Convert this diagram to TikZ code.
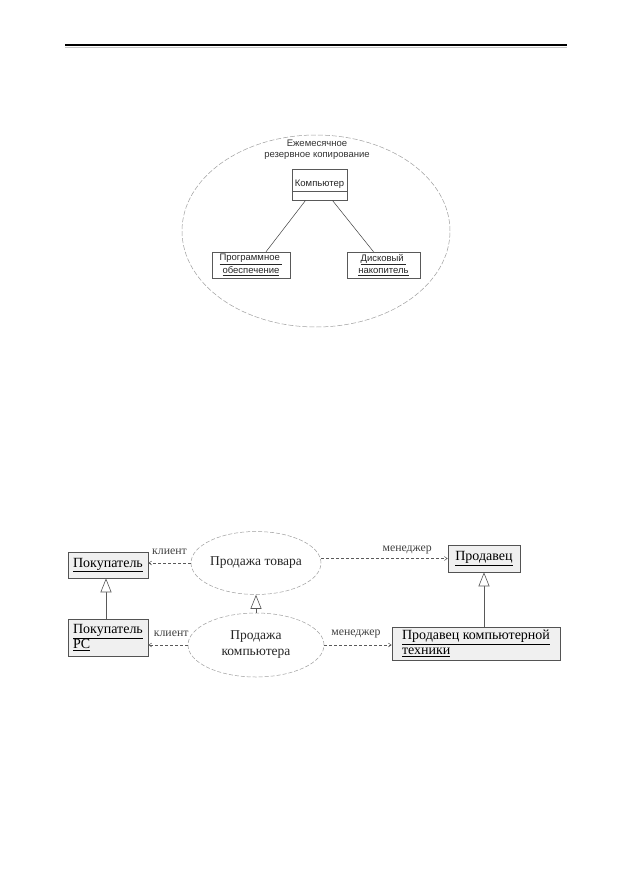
\documentclass[tikz,border=0pt]{standalone}
\usepackage{fontspec}
\setmainfont{Liberation Serif}
\newfontfamily\uppersans{Liberation Sans}
\usetikzlibrary{shapes.geometric,arrows.meta,calc}
\tikzset{
  ubox/.style={draw=gray!70!black, line width=0.5pt, inner sep=1pt, align=center,
    font=\uppersans\fontsize{9.5}{12.5}\selectfont, text=black!85},
  lbox/.style={draw=gray!65!black, fill=gray!12, line width=0.6pt, inner sep=2pt,
    font=\fontsize{14}{15}\selectfont},
  uc/.style={ellipse, draw=gray!75, dashed, dash pattern=on 4pt off 2pt, line width=0.5pt,
    font=\fontsize{13.5}{16}\selectfont, align=center, text=black!85},
  dep/.style={draw=gray!70!black, dashed, dash pattern=on 3pt off 2pt, line width=0.5pt,
    -{Straight Barb[length=3pt,width=4pt]}},
  gen/.style={draw=gray!70!black, line width=0.6pt,
    -{Triangle[open,length=14pt,width=11pt,fill=white]}},
  lbl/.style={font=\fontsize{11.8}{13}\selectfont, text=black!75, inner sep=0pt, anchor=base},
  assoc/.style={draw=gray!50!black, line width=0.5pt}
}
\begin{document}
\begin{tikzpicture}[x=1pt,y=-1pt]
\useasboundingbox[fill=white] (0,0) rectangle (630,891);
% header rule
\coordinate (rl) at (65,45.5);
\coordinate (rr) at (567,45.5);
\draw[line width=2pt, black] (rl) -- (rr);
\draw[line width=1.2pt, gray!45] ($(rl)+(0,2.2)$) -- ($(rr)+(0,2.2)$);

% ---------- upper diagram ----------
\node[ellipse, draw=gray!75, dashed, dash pattern=on 5pt off 2pt, line width=0.5pt,
      minimum width=268pt, minimum height=192pt, inner sep=0pt] (E) at (316,231) {};
\node[align=center, font=\uppersans\fontsize{9.5}{11}\selectfont, text=black!80] (title)
  at (317,150) {Ежемесячное\\резервное копирование};
\node[ubox, minimum width=55pt, minimum height=31pt, anchor=north, text height=12pt, text depth=8pt] (comp)
  at (319.5,169) {Компьютер};
\draw[gray!70!black, line width=0.5pt] ($(comp.north west)+(0,22)$) -- ($(comp.north east)+(0,22)$);
\node[ubox, minimum width=78pt, minimum height=26pt] (prog) at (251,265)
  {\underline{Программное\ }\\\underline{обеспечение}};
\node[ubox, minimum width=73pt, minimum height=26pt] (disk) at (383.5,265)
  {\underline{Дисковый\ }\\\underline{накопитель}};
\draw[assoc] ($(comp.south)+(-14,0)$) -- ($(prog.north)+(15,0)$);
\draw[assoc] ($(comp.south)+(13,0)$) -- ($(disk.north)+(-10,0)$);

% ---------- lower diagram ----------
\node[lbox, minimum width=80pt, minimum height=26pt] (buy) at (108,565) {\underline{Покупатель}};
\node[lbox, minimum width=80pt, minimum height=37pt, align=left] (buypc) at (108,637.5)
  {\underline{Покупатель}\\\underline{PC}};
\node[uc, minimum width=130pt, minimum height=63pt, inner sep=0pt] (sale) at (256,563)
  {Продажа товара};
\node[uc, minimum width=136pt, minimum height=64pt, inner sep=0pt] (salepc) at (256,645)
  {Продажа\\компьютера};
\node[lbox, minimum width=72pt, minimum height=27pt] (seller) at (484,558.5) {\underline{Продавец}};
\node[lbox, minimum width=168pt, minimum height=33pt, align=left] (sellerpc) at (476,643.5)
  {\underline{Продавец компьютерной}\\\underline{техники}};

% dependencies
\draw[dep] (sale.west) -- (sale.west -| buy.east)
  node[lbl, pos=0.5, yshift=9pt] {клиент};
\draw[dep] (salepc.west) -- (salepc.west -| buypc.east)
  node[lbl, pos=0.42, yshift=9pt] {клиент};
\draw[dep] (sale.east |- seller.west) -- (seller.west)
  node[lbl, pos=0.68, yshift=7pt] {менеджер};
\draw[dep] (salepc.east) -- (salepc.east -| sellerpc.west)
  node[lbl, pos=0.47, yshift=10pt] {менеджер};

% generalizations
\draw[gen] (buypc.north -| 106,0) -- (buy.south -| 106,0);
\draw[gen] (salepc.north) -- (sale.south);
\draw[gen] (sellerpc.north -| seller.south) -- (seller.south);
\end{tikzpicture}
\end{document}
